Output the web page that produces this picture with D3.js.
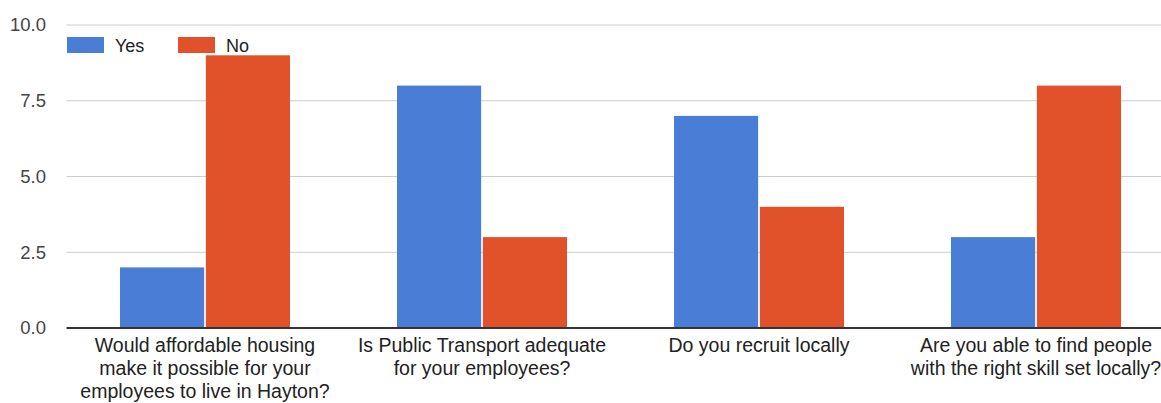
<!DOCTYPE html>
<html>
<head>
<meta charset="utf-8">
<script src="https://cdn.jsdelivr.net/npm/d3@7/dist/d3.min.js"></script>
<style>
html,body{margin:0;padding:0;background:#fff;}
svg{display:block;font-family:"Liberation Sans",Arial,sans-serif;}
</style>
</head>
<body>
<svg id="chart" width="1161" height="403"></svg>
<script>
const categories = [
  "Would affordable housing\nmake it possible for your\nemployees to live in Hayton?",
  "Is Public Transport adequate\nfor your employees?",
  "Do you recruit locally",
  "Are you able to find people\nwith the right skill set locally?"
];
const seriesNames = ["Yes", "No"];
const yesValues = [2, 8, 7, 3];
const noValues = [9, 3, 4, 8];
const yTicks = [0, 2.5, 5, 7.5, 10];
const colors = ["#4a7ed6", "#e2522a"];

(function () {
const svg = d3.select("#chart");
const plotLeft = 66.5, plotRight = 1174.5, plotTop = 25, plotBottom = 328;

const x0 = d3.scaleBand().domain(categories).range([plotLeft, plotRight]).paddingInner(0).paddingOuter(0);
const x1 = d3.scaleBand().domain(seriesNames).range([53.5, x0.bandwidth() - 53.5]).paddingInner(0.02);
const y = d3.scaleLinear().domain([0, 10]).range([plotBottom, plotTop]);

// gridlines
svg.append("g").selectAll("line").data(yTicks.filter(t => t > 0)).join("line")
  .attr("x1", plotLeft).attr("x2", 1161)
  .attr("y1", d => y(d)).attr("y2", d => y(d))
  .attr("stroke", "#cccccc").attr("stroke-width", 1);

// y axis labels
const yAxis = d3.axisLeft(y).tickValues(yTicks).tickFormat(d3.format(".1f")).tickSize(0).tickPadding(0);
const ga = svg.append("g").attr("transform", `translate(46,0)`).call(yAxis);
ga.select(".domain").remove();
ga.selectAll("text").attr("font-size", 18.5).attr("fill", "#444").attr("font-family", "Liberation Sans, Arial, sans-serif");

// bars
const rows = categories.map((c, i) => ({cat: c, vals: [yesValues[i], noValues[i]]}));
const groups = svg.append("g").selectAll("g").data(rows).join("g")
  .attr("transform", d => `translate(${x0(d.cat)},0)`);
groups.selectAll("rect").data(d => d.vals.map((v, j) => ({name: seriesNames[j], v, j}))).join("rect")
  .attr("x", d => x1(d.name))
  .attr("width", x1.bandwidth())
  .attr("y", d => y(d.v))
  .attr("height", d => y(0) - y(d.v))
  .attr("fill", d => colors[d.j]);

// baseline
svg.append("line").attr("x1", plotLeft).attr("x2", 1161).attr("y1", y(0)).attr("y2", y(0))
  .attr("stroke", "#333").attr("stroke-width", 2);

// category labels
const lab = svg.append("g");
categories.forEach(c => {
  const cx = x0(c) + x0.bandwidth() / 2;
  const t = lab.append("text").attr("text-anchor", "middle").attr("font-size", 19.5).attr("fill", "#222");
  c.split("\n").forEach((line, k) => {
    t.append("tspan").attr("x", cx).attr("y", 352 + k * 23).text(line);
  });
});

// legend
const lg = svg.append("g");
const legendX = [67, 178];
seriesNames.forEach((s, i) => {
  lg.append("rect").attr("x", legendX[i]).attr("y", 37).attr("width", 37).attr("height", 16).attr("fill", colors[i]);
  lg.append("text").attr("x", legendX[i] + 48).attr("y", 51.5).attr("font-size", 18).attr("fill", "#222").text(s);
});
})();
</script>
</body>
</html>
